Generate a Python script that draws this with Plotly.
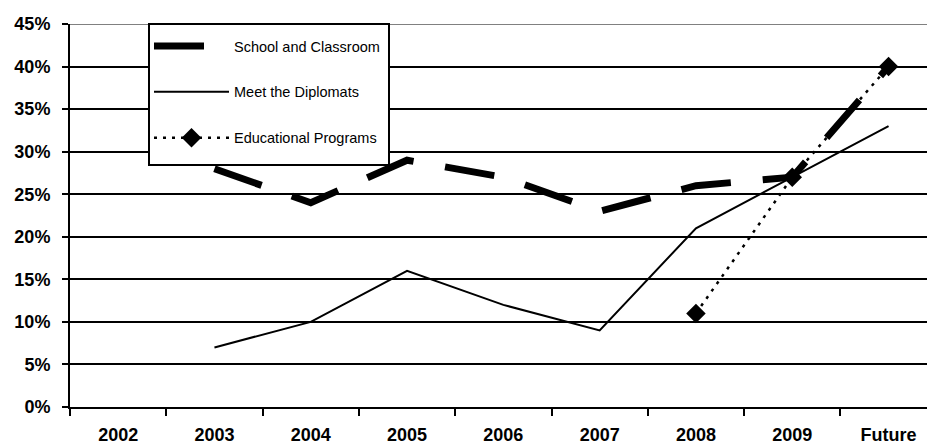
import plotly.graph_objects as go

categories = ["2002", "2003", "2004", "2005", "2006", "2007", "2008", "2009", "Future"]
school_classroom = [None, 28, 24, 29, 27, 23, 26, 27, 40]
meet_diplomats = [None, 7, 10, 16, 12, 9, 21, 27, 33]
educational = [None, None, None, None, None, None, 11, 27, 40]
y_ticks = [0, 5, 10, 15, 20, 25, 30, 35, 40, 45]
y_labels = [f"{v}%" for v in y_ticks]

W, H = 927, 445
PL, PR, PT, PB = 70, 927, 24, 407


def px_x(p):
    return (p - PL) / (PR - PL)


def px_y(p):
    return (PB - p) / (PB - PT)


fig = go.Figure()
fig.add_trace(go.Scatter(
    x=categories, y=school_classroom, name="School and Classroom",
    mode="lines", line=dict(color="black", width=7, dash="50px,32px"),
    legendgroup="a"))
fig.add_trace(go.Scatter(
    x=categories, y=meet_diplomats, name="Meet the Diplomats",
    mode="lines", line=dict(color="black", width=2),
    legendgroup="b"))
fig.add_trace(go.Scatter(
    x=categories, y=educational, name="Educational Programs",
    mode="lines+markers", line=dict(color="black", width=2.5, dash="3px,6px"),
    marker=dict(symbol="diamond", size=15, color="black"),
    legendgroup="c"))

fig.add_shape(type="line", xref="paper", yref="y", x0=0, x1=1, y0=45, y1=45,
              line=dict(color="#808080", width=2), layer="above")
# legend box
fig.add_shape(type="rect", xref="paper", yref="paper",
              x0=px_x(149), x1=px_x(389), y0=px_y(165), y1=px_y(24),
              fillcolor="white", line=dict(color="black", width=2), layer="above")

fig.update_layout(
    width=W, height=H,
    margin=dict(l=PL, r=W - PR, t=PT, b=H - PB, pad=0, autoexpand=False),
    plot_bgcolor="white", paper_bgcolor="white",
    font=dict(family="Arial, Liberation Sans", color="black"),
    showlegend=True,
    legend=dict(
        x=px_x(149), y=px_y(30), xanchor="left", yanchor="top",
        bgcolor="rgba(0,0,0,0)", borderwidth=0,
        font=dict(size=14.5, family="Arial, Liberation Sans", color="black"),
        traceorder="grouped", tracegroupgap=24, itemwidth=75,
    ),
    xaxis=dict(
        type="category", range=[-0.5, -0.5 + (PR - PL) / 96.3], tickson="boundaries",
        ticks="outside", ticklen=7, tickwidth=2, tickcolor="black",
        showline=True, linecolor="black", linewidth=2,
        showgrid=False, zeroline=False, automargin=False,
        ticklabelstandoff=10,
        tickfont=dict(size=18, family="Arial, Liberation Sans", color="black", weight="bold"),
    ),
    yaxis=dict(
        range=[0, 45], tickvals=y_ticks, ticktext=y_labels,
        ticks="outside", ticklen=6, tickwidth=2, tickcolor="black",
        showline=True, linecolor="black", linewidth=2,
        showgrid=True, gridcolor="black", gridwidth=2, zeroline=False,
        automargin=False, ticklabelstandoff=8,
        tickfont=dict(size=18, family="Arial, Liberation Sans", color="black", weight="bold"),
    ),
)

fig.write_html(
    "out.html",
    config={"displayModeBar": False},
    post_script=(
        "document.documentElement.style.overflow='hidden';"
        "document.body.style.margin='0px';"
        "document.body.style.overflow='hidden';"
    ),
)
